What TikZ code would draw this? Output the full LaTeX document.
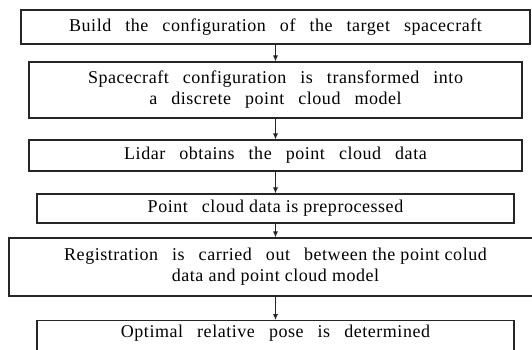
\documentclass[tikz,border=0pt]{standalone}
\usepackage{fontspec}
\setmainfont{Liberation Serif}[LetterSpace=3]
\usetikzlibrary{arrows.meta}
% wide word space used in the labels
\newcommand{\gap}{\hspace{0.5em}\ignorespaces}

\begin{document}
\begin{tikzpicture}[x=1pt, y=-1pt, font=\fontsize{18}{21}\selectfont,
        stage/.style={draw=black!85, text=black, line width=1.1pt, inner sep=0pt, align=center},
        flow/.style={draw=black!85, line width=0.9pt, -{Latex[length=6pt,width=5pt]}}]
        \useasboundingbox (0,0) rectangle (532,349);
        \clip (0,0) rectangle (532,349);
        % Draw the boxes
        \node[stage, line width=1.6pt, minimum width=509, minimum height=34] (build) at (275.5,27)
            {Build \gap the \gap configuration \gap of \gap the \gap target \gap spacecraft};
        \node[stage, minimum width=493, minimum height=56] (model) at (275.5,90)
            {Spacecraft \gap configuration \gap is \gap transformed \gap into\\
             a \gap discrete \gap point \gap cloud \gap model};
        \node[stage, minimum width=493, minimum height=31] (lidar) at (275.5,155.5)
            {Lidar \gap obtains \gap the \gap point \gap cloud \gap data};
        \node[stage, minimum width=477, minimum height=29] (prep) at (275.5,208.5)
            {Point \gap cloud data is preprocessed};
        \node[stage, minimum width=533, minimum height=58] (reg) at (275.5,267)
            {Registration \gap is \gap carried \gap out \gap between the point colud\\
             data and point cloud model};
        % last box runs past the bottom edge
        \node[stage, anchor=north, minimum width=477, inner ysep=5pt, text height=12pt, text depth=22pt] (pose) at (275.5,320)
            {Optimal \gap relative \gap pose \gap is \gap determined};
        % Draw the arrows
        \draw[flow] (build) -- (model);
        \draw[flow] (model) -- (lidar);
        \draw[flow] (lidar) -- (prep);
        \draw[flow] (prep) -- (reg);
        \draw[flow] (reg) -- (pose);
    \end{tikzpicture}
\end{document}
